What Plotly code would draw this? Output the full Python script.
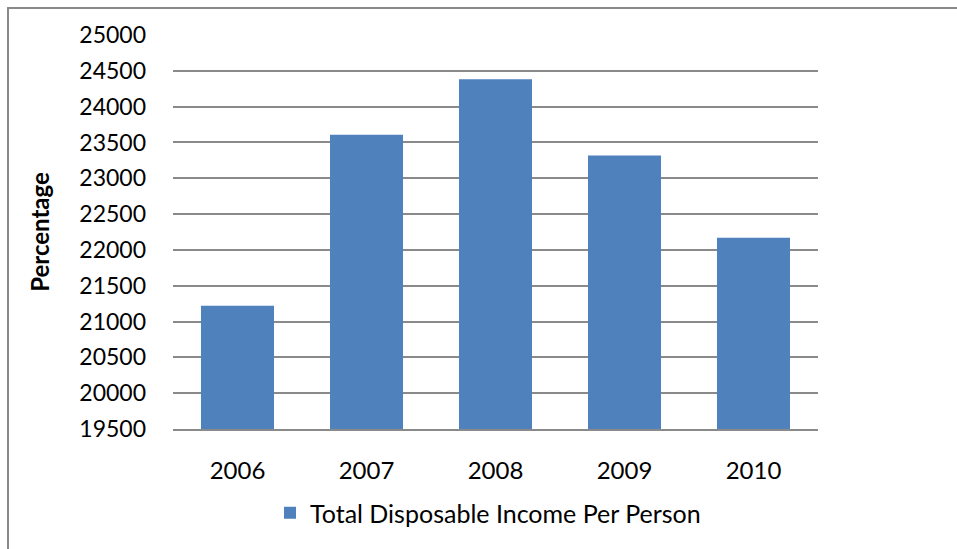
import plotly.graph_objects as go

# Disposable income per person by year
years = ["2006", "2007", "2008", "2009", "2010"]
income = [21220, 23606, 24383, 23318, 22168]
series_name = "Total Disposable Income Per Person"

y_ticks = list(range(19500, 25001, 500))

BAR_COLOR = "#4F81BD"
GRID_COLOR = "#8A8A8A"
FONT = "Lato, Calibri, Arial, sans-serif"

fig = go.Figure()
fig.add_trace(go.Bar(
    x=years,
    y=income,
    name=series_name,
    marker=dict(color=BAR_COLOR, line=dict(width=0)),
    width=0.566,
    showlegend=True,
))

W, H = 957, 549
L, R, T, B = 173, 818, 35, 429  # plot area in pixels


def px_x(px):
    return (px - L) / (R - L)


def px_y(py):
    return (B - py) / (B - T)


fig.update_layout(
    width=W,
    height=H,
    margin=dict(l=L, r=W - R, t=T, b=H - B, autoexpand=False),
    paper_bgcolor="white",
    plot_bgcolor="white",
    font=dict(family=FONT, size=23, color="black"),
    bargap=0.434,
    showlegend=True,
    legend=dict(
        orientation="h",
        x=px_x(270),
        xanchor="left",
        y=px_y(513),
        yanchor="middle",
        font=dict(family=FONT, size=25, color="black"),
        bgcolor="rgba(0,0,0,0)",
    ),
    xaxis=dict(
        type="category",
        showgrid=False,
        showline=True,
        linecolor=GRID_COLOR,
        linewidth=1.6,
        ticks="",
        ticklabelstandoff=19,
        tickfont=dict(family=FONT, size=24),
        fixedrange=True,
    ),
    yaxis=dict(
        range=[19500, 25000],
        tickvals=y_ticks,
        ticktext=[str(v) for v in y_ticks],
        showgrid=True,
        gridcolor=GRID_COLOR,
        gridwidth=1.6,
        showline=False,
        zeroline=False,
        ticks="",
        ticklabelstandoff=26,
        tickfont=dict(family=FONT, size=23),
        title=dict(
            text="<b>Percentage</b>",
            font=dict(family=FONT, size=24),
            standoff=22,
        ),
        automargin=False,
        fixedrange=True,
    ),
    shapes=[
        # outer chart frame (left and top edges)
        dict(
            type="path",
            xref="paper",
            yref="paper",
            path=f"M {px_x(8)} {px_y(560)} L {px_x(8)} {px_y(8)} L {px_x(970)} {px_y(8)}",
            line=dict(color=GRID_COLOR, width=2),
            layer="above",
        )
    ],
)

fig.write_html("out.html")
